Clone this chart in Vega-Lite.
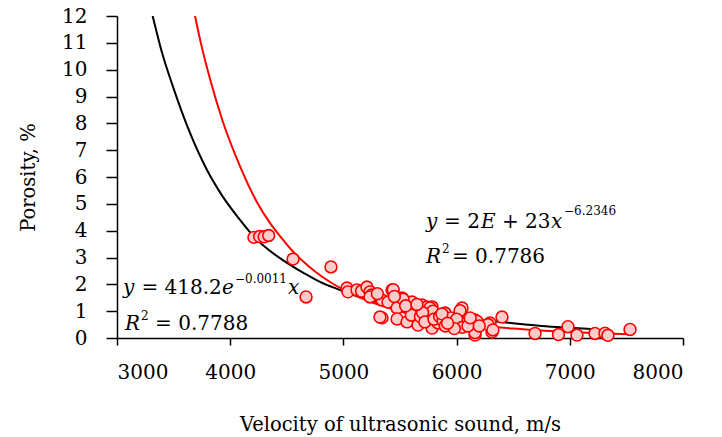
{
  "$schema": "https://vega.github.io/schema/vega-lite/v6.json",
  "autosize": "none",
  "width": 566,
  "height": 322,
  "padding": {"left": 117, "top": 16, "right": 39, "bottom": 99},
  "background": "white",
  "config": {
    "view": {"stroke": null},
    "style": {"guide-label": {"font": "DejaVu Serif"}, "guide-title": {"font": "DejaVu Serif"}},
    "axis": {
      "grid": false,
      "domainColor": "black",
      "domainWidth": 1.5,
      "tickColor": "black",
      "tickWidth": 1.5,
      "labelColor": "black",
      "labelFont": "DejaVu Serif",
      "labelFontSize": 20,
      "titleFont": "DejaVu Serif",
      "titleFontSize": 19.5,
      "titleFontWeight": "normal",
      "titleColor": "black"
    }
  },
  "datasets": {
    "pts": [
      {"v": 4210, "p": 3.75}, {"v": 4260, "p": 3.78}, {"v": 4300, "p": 3.77}, {"v": 4340, "p": 3.82},
      {"v": 4555, "p": 2.94}, {"v": 4890, "p": 2.65}, {"v": 4670, "p": 1.53},
      {"v": 5031, "p": 1.86}, {"v": 5040, "p": 1.72}, {"v": 5120, "p": 1.79}, {"v": 5160, "p": 1.75},
      {"v": 5208, "p": 1.9}, {"v": 5235, "p": 1.72}, {"v": 5250, "p": 1.6}, {"v": 5235, "p": 1.53},
      {"v": 5430, "p": 1.79}, {"v": 5440, "p": 1.8}, {"v": 5341, "p": 1.42}, {"v": 5394, "p": 1.34},
      {"v": 5518, "p": 1.49}, {"v": 5474, "p": 1.12}, {"v": 5606, "p": 1.34}, {"v": 5641, "p": 1.04},
      {"v": 5694, "p": 1.23}, {"v": 5341, "p": 0.75}, {"v": 5323, "p": 0.78}, {"v": 5474, "p": 0.71},
      {"v": 5562, "p": 0.6}, {"v": 5659, "p": 0.48}, {"v": 5739, "p": 0.75}, {"v": 5739, "p": 1.16},
      {"v": 5783, "p": 1.16}, {"v": 5898, "p": 0.93}, {"v": 6048, "p": 1.12}, {"v": 5942, "p": 0.6},
      {"v": 6012, "p": 0.48}, {"v": 6163, "p": 0.67}, {"v": 6163, "p": 0.3}, {"v": 6163, "p": 0.11},
      {"v": 6163, "p": 0.2}, {"v": 6295, "p": 0.56}, {"v": 6313, "p": 0.22}, {"v": 6401, "p": 0.78},
      {"v": 5783, "p": 0.37}, {"v": 5836, "p": 0.56}, {"v": 5960, "p": 0.5}, {"v": 6080, "p": 0.55},
      {"v": 5527, "p": 1.45}, {"v": 5632, "p": 1.04}, {"v": 5765, "p": 1.12}, {"v": 5790, "p": 1.0},
      {"v": 6030, "p": 1.02}, {"v": 6180, "p": 0.62}, {"v": 6277, "p": 0.5}, {"v": 6321, "p": 0.3},
      {"v": 5600, "p": 0.85}, {"v": 5680, "p": 0.8}, {"v": 5700, "p": 0.95}, {"v": 5720, "p": 0.6},
      {"v": 5800, "p": 0.7}, {"v": 5850, "p": 0.8}, {"v": 5880, "p": 0.65}, {"v": 5900, "p": 0.45},
      {"v": 5950, "p": 0.75}, {"v": 6000, "p": 0.7}, {"v": 6050, "p": 0.4}, {"v": 6100, "p": 0.45},
      {"v": 6120, "p": 0.75}, {"v": 5550, "p": 1.2}, {"v": 5650, "p": 1.25}, {"v": 5870, "p": 0.9},
      {"v": 5980, "p": 0.35}, {"v": 5920, "p": 0.55}, {"v": 6200, "p": 0.45}, {"v": 5450, "p": 1.55},
      {"v": 5300, "p": 1.65},
      {"v": 6693, "p": 0.17}, {"v": 6900, "p": 0.13}, {"v": 6984, "p": 0.42}, {"v": 7063, "p": 0.11},
      {"v": 7222, "p": 0.17}, {"v": 7311, "p": 0.18}, {"v": 7337, "p": 0.1}, {"v": 7532, "p": 0.32}
    ],
    "expFit": [
      {"v": 3315, "p": 12.0}, {"v": 3400, "p": 10.6}, {"v": 3495, "p": 9.36}, {"v": 3645, "p": 7.64},
      {"v": 3795, "p": 6.26}, {"v": 3936, "p": 5.26}, {"v": 4087, "p": 4.4}, {"v": 4219, "p": 3.73},
      {"v": 4350, "p": 3.25}, {"v": 4502, "p": 2.8}, {"v": 4650, "p": 2.42}, {"v": 4793, "p": 2.09},
      {"v": 4970, "p": 1.79}, {"v": 5200, "p": 1.45}, {"v": 5500, "p": 1.15}, {"v": 5750, "p": 0.95},
      {"v": 6000, "p": 0.8}, {"v": 6250, "p": 0.66}, {"v": 6500, "p": 0.55}, {"v": 6750, "p": 0.45},
      {"v": 7000, "p": 0.38}, {"v": 7200, "p": 0.33}
    ],
    "powFit": [
      {"v": 3689, "p": 12.0}, {"v": 3750, "p": 10.83}, {"v": 3822, "p": 9.65}, {"v": 3936, "p": 8.05},
      {"v": 4087, "p": 6.4}, {"v": 4237, "p": 5.06}, {"v": 4352, "p": 4.28}, {"v": 4440, "p": 3.8},
      {"v": 4546, "p": 3.26}, {"v": 4650, "p": 2.83}, {"v": 4767, "p": 2.42}, {"v": 4900, "p": 2.04},
      {"v": 4996, "p": 1.81}, {"v": 5125, "p": 1.54}, {"v": 5250, "p": 1.33}, {"v": 5375, "p": 1.15},
      {"v": 5500, "p": 0.99}, {"v": 5750, "p": 0.75}, {"v": 6000, "p": 0.58}, {"v": 6250, "p": 0.45},
      {"v": 6500, "p": 0.35}, {"v": 6750, "p": 0.28}, {"v": 7000, "p": 0.22}, {"v": 7250, "p": 0.18},
      {"v": 7530, "p": 0.14}
    ],
    "italicText": [
      {"v": 3053, "p": 1.64, "t": "y"},
      {"v": 3928, "p": 1.64, "t": "e"},
      {"v": 4511, "p": 1.64, "t": "x"},
      {"v": 3071, "p": 0.298, "t": "R"},
      {"v": 5730, "p": 4.10, "t": "y"},
      {"v": 6216, "p": 4.10, "t": "E"},
      {"v": 6834, "p": 4.10, "t": "x"},
      {"v": 5730, "p": 2.80, "t": "R"}
    ],
    "uprightText": [
      {"v": 3216, "p": 1.64, "t": "= 418.2"},
      {"v": 3336, "p": 0.298, "t": "= 0.7788"},
      {"v": 5889, "p": 4.10, "t": "= 2"},
      {"v": 6401, "p": 4.10, "t": "+ 23"},
      {"v": 5959, "p": 2.80, "t": "= 0.7786"}
    ],
    "supText": [
      {"v": 4042, "p": 2.05, "t": "−0.0011"},
      {"v": 3212, "p": 0.671, "t": "2"},
      {"v": 6949, "p": 4.58, "t": "−6.2346"},
      {"v": 5871, "p": 3.17, "t": "2"}
    ]
  },
  "encoding": {
    "x": {
      "field": "v",
      "type": "quantitative",
      "scale": {"domain": [3000, 8000], "nice": false, "zero": false},
      "axis": {
        "values": [3000, 4000, 5000, 6000, 7000, 8000],
        "format": "d",
        "labelFont": "DejaVu Serif",
        "labelFontSize": 20,
        "tickSize": 7,
        "labelPadding": 17,
        "titlePadding": 33,
        "title": "Velocity of ultrasonic sound, m/s"
      }
    },
    "y": {
      "field": "p",
      "type": "quantitative",
      "scale": {"domain": [0, 12], "nice": false},
      "axis": {
        "values": [0, 1, 2, 3, 4, 5, 6, 7, 8, 9, 10, 11, 12],
        "labelFont": "DejaVu Serif",
        "labelFontSize": 20,
        "tickSize": 11,
        "labelPadding": 19,
        "titlePadding": 23,
        "title": "Porosity, %"
      }
    }
  },
  "layer": [
    {
      "data": {"name": "expFit"},
      "mark": {"type": "line", "color": "black", "strokeWidth": 2, "interpolate": "monotone", "clip": true}
    },
    {
      "data": {"name": "powFit"},
      "mark": {"type": "line", "color": "#ff0000", "strokeWidth": 2, "interpolate": "monotone", "clip": true}
    },
    {
      "data": {"name": "pts"},
      "mark": {"type": "point", "shape": "circle", "filled": false, "fill": "#ffcccc", "fillOpacity": 1, "stroke": "#ff0000", "strokeWidth": 1.6, "opacity": 1, "size": 140}
    },
    {
      "data": {"name": "italicText"},
      "mark": {"type": "text", "align": "left", "baseline": "alphabetic", "font": "DejaVu Serif", "fontSize": 20, "fontStyle": "italic", "color": "black"},
      "encoding": {"text": {"field": "t"}}
    },
    {
      "data": {"name": "uprightText"},
      "mark": {"type": "text", "align": "left", "baseline": "alphabetic", "font": "DejaVu Serif", "fontSize": 20, "fontStyle": "normal", "color": "black"},
      "encoding": {"text": {"field": "t"}}
    },
    {
      "data": {"name": "supText"},
      "mark": {"type": "text", "align": "left", "baseline": "alphabetic", "font": "DejaVu Serif", "fontSize": 12, "fontStyle": "normal", "color": "black"},
      "encoding": {"text": {"field": "t"}}
    }
  ]
}
